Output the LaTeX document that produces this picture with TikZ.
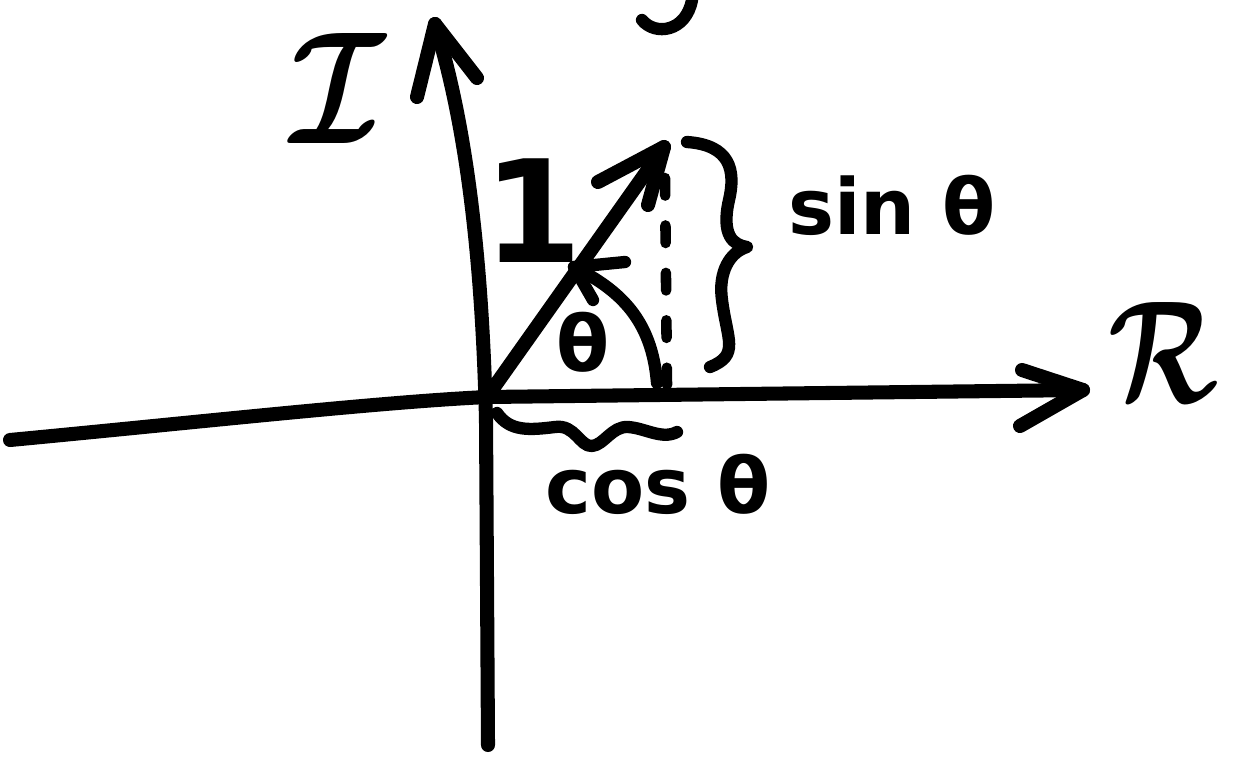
\documentclass[tikz,border=0pt]{standalone}
\usepackage{fontspec}
\setmainfont{DejaVu Sans}
\begin{document}
\begin{tikzpicture}[x=0.02cm,y=-0.02cm,line cap=round,line join=round,
  pen/.style={line width=8pt},
  thinpen/.style={line width=7pt},
  dashpen/.style={line width=6pt,dash pattern=on 10pt off 17pt},
  lbl/.style={font=\bfseries\fontsize{44}{48}\selectfont,inner sep=0pt},
  big/.style={font=\bfseries\fontsize{81}{84}\selectfont,inner sep=0pt}]
\useasboundingbox (0,0) rectangle (1233,757);
% key points
\coordinate (O) at (487,397);
\coordinate (hl) at (10,440);
\coordinate (hr) at (1083,390);
\coordinate (vb) at (488,745);
\coordinate (vm) at (486,420);
\coordinate (vt) at (435,24);
\coordinate (P) at (664,147);
\coordinate (A0) at (657,383);
\coordinate (A1) at (574,267);
\coordinate (D0) at (665,178);
\coordinate (D1) at (667,385);
% horizontal axis
\draw[pen] (hl) .. controls (200,422) and (380,402) .. (O) -- (hr);
\draw[pen] (1022,370) -- (hr) -- (1020,426);
% vertical axis
\draw[pen] (vb) -- (vm) .. controls (482,250) and (465,120) .. (vt);
\draw[pen] (417,97) -- (vt) -- (477,78);
% unit vector
\draw[pen] (O) -- (P);
\draw[pen] (598,182) -- (P) -- (648,205);
% dashed vertical
\draw[dashpen] (D0) -- (D1);
% angle arc
\draw[thinpen] (A0) .. controls (652,320) and (620,290) .. (A1);
\draw[thinpen] (625,262) -- (A1) -- (593,300);
% sin brace
\draw[thinpen] (687,142) .. controls (730,145) and (736,170) .. (729,200)
  .. controls (721,235) and (733,245) .. (747,247)
  .. controls (730,252) and (718,272) .. (722,300)
  .. controls (727,340) and (740,355) .. (710,367);
% cos squiggle
\draw[thinpen] (497,413) .. controls (510,432) and (530,430) .. (555,427)
  .. controls (575,424) and (580,447) .. (592,446)
  .. controls (604,445) and (612,426) .. (628,427)
  .. controls (645,428) and (662,440) .. (677,432);
% cut-off stroke at top
\draw[thinpen] (642,20) .. controls (655,36) and (686,32) .. (692,0);
% labels
\node[big] (one) at (533,211) {1};
\node[lbl] (th) at (583,342) {θ};
\node[lbl] (sin) at (892,205) {sin θ};
\node[lbl] (cos) at (658,484) {cos θ};
\node[inner sep=0pt] (Im) at (338,88) {\resizebox{1.9cm}{2.2cm}{\boldmath$\mathcal{I}$}};
\node[inner sep=0pt] (Re) at (1163,352) {\resizebox{2.2cm}{2.0cm}{\boldmath$\mathcal{R}$}};
\end{tikzpicture}
\end{document}
